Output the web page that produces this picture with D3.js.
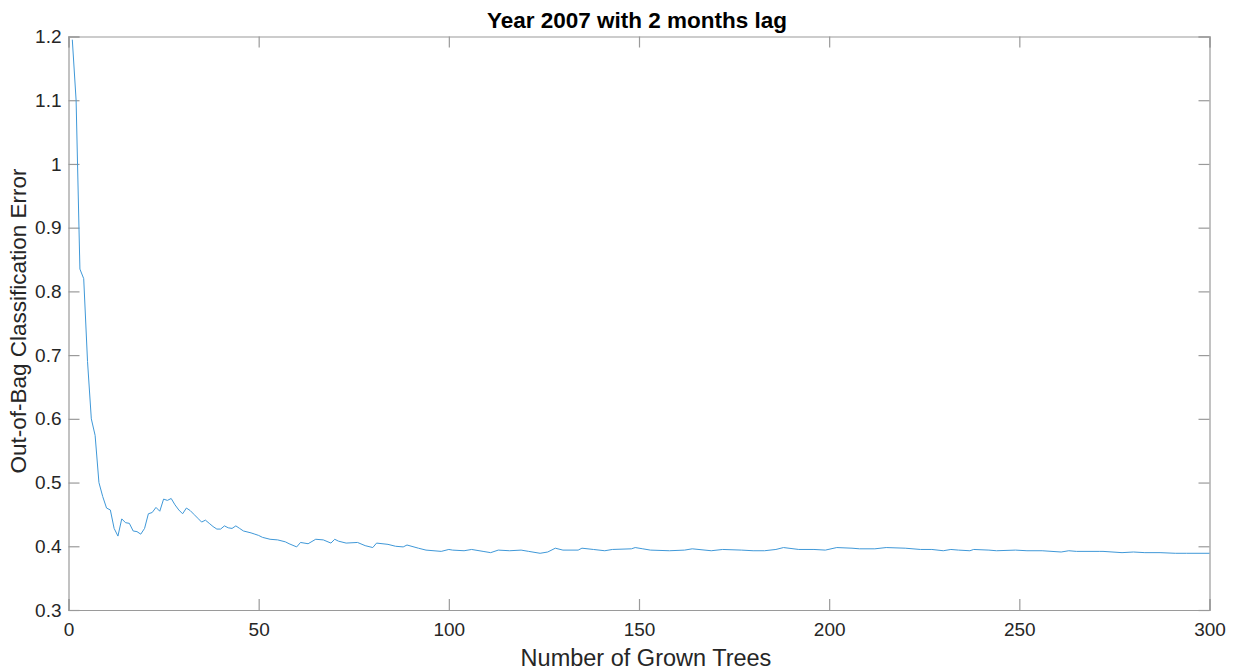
<!DOCTYPE html>
<html>
<head>
<meta charset="utf-8">
<script src="https://cdn.jsdelivr.net/npm/d3@7"></script>
<style>
  html, body { margin: 0; padding: 0; background: #fff; }
  svg { display: block; font-family: "Liberation Sans", Arial, Helvetica, sans-serif; }
</style>
</head>
<body>
<svg id="chart" width="1237" height="671"></svg>
<script>
// Out-of-bag classification error as trees are added to the ensemble
const trees = [1,2,3,4,5,6,7,8,9,10,11,12,13,14,15,16,17,18,19,20,21,22,23,24,25,26,27,28,29,30,
  31,32,33,34,35,36,37,38,39,40,41,42,43,44,45,46,48,49,50,51,53,55,57,58,60,61,63,65,67,69,70,71,73,
  76,78,80,81,84,86,88,89,92,94,98,100,101,104,106,109,111,113,116,119,121,124,126,128,130,134,135,
  138,141,143,148,149,151,153,158,162,164,169,172,177,180,183,186,188,192,196,199,202,206,208,212,
  215,220,224,227,230,232,234,237,238,242,244,249,252,256,261,263,265,271,272,277,280,283,287,291,294,300];
const oobError = [1.195,1.10,0.835,0.82,0.69,0.60,0.574,0.50,0.478,0.46,0.457,0.428,0.416,0.443,0.437,
  0.436,0.424,0.423,0.419,0.428,0.451,0.453,0.461,0.455,0.474,0.472,0.475,0.465,0.457,0.451,
  0.46,0.456,0.45,0.444,0.438,0.441,0.436,0.431,0.427,0.427,0.432,0.429,0.428,0.432,0.428,0.424,0.421,
  0.419,0.417,0.414,0.411,0.41,0.407,0.404,0.399,0.406,0.404,0.411,0.410,0.405,0.411,0.408,0.405,
  0.406,0.401,0.398,0.405,0.403,0.400,0.399,0.402,0.397,0.394,0.392,0.395,0.394,0.393,0.395,0.392,
  0.390,0.394,0.393,0.394,0.392,0.389,0.391,0.397,0.394,0.394,0.397,0.395,0.393,0.395,0.396,0.398,
  0.396,0.394,0.393,0.394,0.396,0.393,0.395,0.394,0.393,0.393,0.395,0.398,0.395,0.395,0.394,0.398,
  0.397,0.396,0.396,0.398,0.397,0.395,0.395,0.393,0.395,0.394,0.393,0.395,0.394,0.393,0.394,0.393,
  0.393,0.391,0.393,0.392,0.392,0.392,0.390,0.391,0.390,0.390,0.389,0.389,0.389];

const xTicks = [0,50,100,150,200,250,300];
const yTicks = [0.3,0.4,0.5,0.6,0.7,0.8,0.9,1,1.1,1.2];

const chartTitle = "Year 2007 with 2 months lag";
const xTitle = "Number of Grown Trees";
const yTitle = "Out-of-Bag Classification Error";

const svg = d3.select("#chart");
const plot = { left: 68.5, top: 36.5, right: 1209.5, bottom: 610 };
const w = plot.right - plot.left, h = plot.bottom - plot.top;

const x = d3.scaleLinear().domain([0, 300]).range([0, w]);
const y = d3.scaleLinear().domain([0.3, 1.2]).range([h, 0]);

const g = svg.append("g").attr("transform", `translate(${plot.left},${plot.top})`);

const axisColor = "#9a9a9a";
const textColor = "#262626";
const tickLen = 11;

// Bottom axis with inward ticks and labels
const xAxis = g.append("g").attr("transform", `translate(0,${h})`)
  .call(d3.axisBottom(x).tickValues(xTicks).tickSize(-tickLen).tickPadding(22).tickFormat(d3.format("d")));
// Top axis: ticks only
const xAxisTop = g.append("g")
  .call(d3.axisTop(x).tickValues(xTicks).tickSize(-tickLen).tickFormat(""));
// Left axis with labels
const yAxis = g.append("g")
  .call(d3.axisLeft(y).tickValues(yTicks).tickSize(-tickLen).tickPadding(6).tickFormat(d => d3.format("")(d)));
// Right axis: ticks only
const yAxisRight = g.append("g").attr("transform", `translate(${w},0)`)
  .call(d3.axisRight(y).tickValues(yTicks).tickSize(-tickLen).tickFormat(""));

[xAxis, xAxisTop, yAxis, yAxisRight].forEach(a => {
  a.select(".domain").attr("stroke", axisColor).attr("stroke-width", 1.2);
  a.selectAll(".tick line").attr("stroke", axisColor).attr("stroke-width", 1.2);
  a.selectAll(".tick text").attr("fill", textColor).attr("font-size", 19)
    .attr("font-family", "'Liberation Sans', Arial, sans-serif");
});
xAxis.selectAll(".tick text").attr("dy", "0.2em");
yAxis.selectAll(".tick text").attr("dx", "-1px");

// Error curve
const line = d3.line()
  .x((d, i) => x(trees[i]))
  .y(d => y(d));
g.append("path")
  .datum(oobError)
  .attr("fill", "none")
  .attr("stroke", "#3f98d8")
  .attr("stroke-width", 1)
  .attr("stroke-linejoin", "round")
  .attr("d", line);

// Titles
svg.append("text")
  .attr("x", 637).attr("y", 28)
  .attr("text-anchor", "middle")
  .attr("font-size", 22.5).attr("font-weight", "bold").attr("fill", "#000")
  .text(chartTitle);

svg.append("text")
  .attr("x", 646).attr("y", 666)
  .attr("text-anchor", "middle")
  .attr("font-size", 23.5).attr("fill", textColor)
  .text(xTitle);

svg.append("text")
  .attr("transform", `translate(26,321) rotate(-90)`)
  .attr("text-anchor", "middle")
  .attr("font-size", 22.5).attr("fill", textColor)
  .text(yTitle);
</script>
</body>
</html>
